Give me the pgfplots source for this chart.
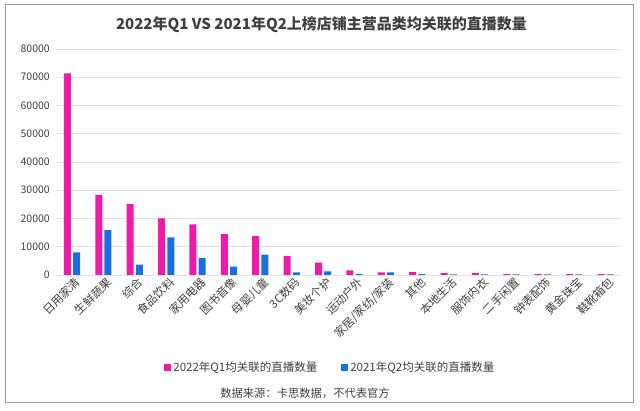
\documentclass[border=0pt]{standalone}
\usepackage{pgfplots}
\pgfplotsset{compat=1.18}
\usepackage{fontspec}
\setmainfont{Noto Sans CJK SC}
\definecolor{pinkbar}{HTML}{EE1AA8}
\definecolor{bluebar}{HTML}{1A6FE0}
\definecolor{gridc}{HTML}{E2E2E6}
\definecolor{txt}{HTML}{404040}
\begin{document}
\begin{tikzpicture}[x=1pt,y=1pt]
\path[use as bounding box] (0,0) rectangle (640,411);
\draw[gray!80, line width=0.8pt] (5,9) rectangle (633,406.5);
\node[font=\fontsize{15}{18}\selectfont\bfseries, text=txt] at (321.5,386) {2022年Q1 VS 2021年Q2上榜店铺主营品类均关联的直播数量};
\begin{axis}[
  at={(56.3pt,136pt)}, anchor=south west,
  scale only axis, width=565pt, height=226pt,
  ymin=0, ymax=80000, xmin=-0.5, xmax=17.5,
  ytick={0,10000,...,80000},
  scaled y ticks=false,
  /pgf/number format/fixed,
  /pgf/number format/1000 sep={},
  /pgf/number format/assume math mode=true,
  yticklabel style={font=\fontsize{10.5}{12}\selectfont, text=txt, xshift=-3pt},
  ymajorgrids, grid style={gridc, line width=0.8pt},
  axis x line*=bottom, axis y line*=left,
  y axis line style={draw=none},
  x axis line style={gridc, line width=0.8pt, -},
  major tick length=0pt,
  xtick=data,
  xticklabels={日用家清,生鲜蔬果,综合,食品饮料,家用电器,图书音像,母婴儿童,3C数码,美妆个护,运动户外,家居/家纺/家装,其他,本地生活,服饰内衣,二手闲置,钟表配饰,黄金珠宝,鞋靴箱包},
  xticklabel style={rotate=45, anchor=east, font=\fontsize{11.5}{12}\selectfont, text=txt, xshift=4pt, yshift=-8pt},
  ybar=2.2pt, bar width=7pt,
  legend style={at={(0.485,-0.41)}, anchor=center, draw=none, fill=none,
    legend columns=2, font=\fontsize{11.5}{13}\selectfont, text=txt,
    /tikz/every even column/.append style={column sep=22pt}},
  legend image code/.code={\fill[#1] (0pt,-3.5pt) rectangle (7pt,3.5pt);},
]
\addplot[fill=pinkbar, draw=none] coordinates {
(0,71400) (1,28300) (2,25100) (3,20000) (4,17900) (5,14500) (6,13800) (7,6700) (8,4400)
(9,1650) (10,950) (11,1050) (12,700) (13,700) (14,350) (15,350) (16,350) (17,350)};
\addplot[fill=bluebar, draw=none] coordinates {
(0,8000) (1,15900) (2,3700) (3,13300) (4,6000) (5,3000) (6,7200) (7,900) (8,1300)
(9,350) (10,950) (11,350) (12,250) (13,250) (14,250) (15,250) (16,250) (17,250)};
\legend{2022年Q1均关联的直播数量, 2021年Q2均关联的直播数量}
\end{axis}
\node[font=\fontsize{11.3}{13}\selectfont, text=txt] at (305,18) {数据来源：卡思数据，不代表官方};
\end{tikzpicture}
\end{document}
